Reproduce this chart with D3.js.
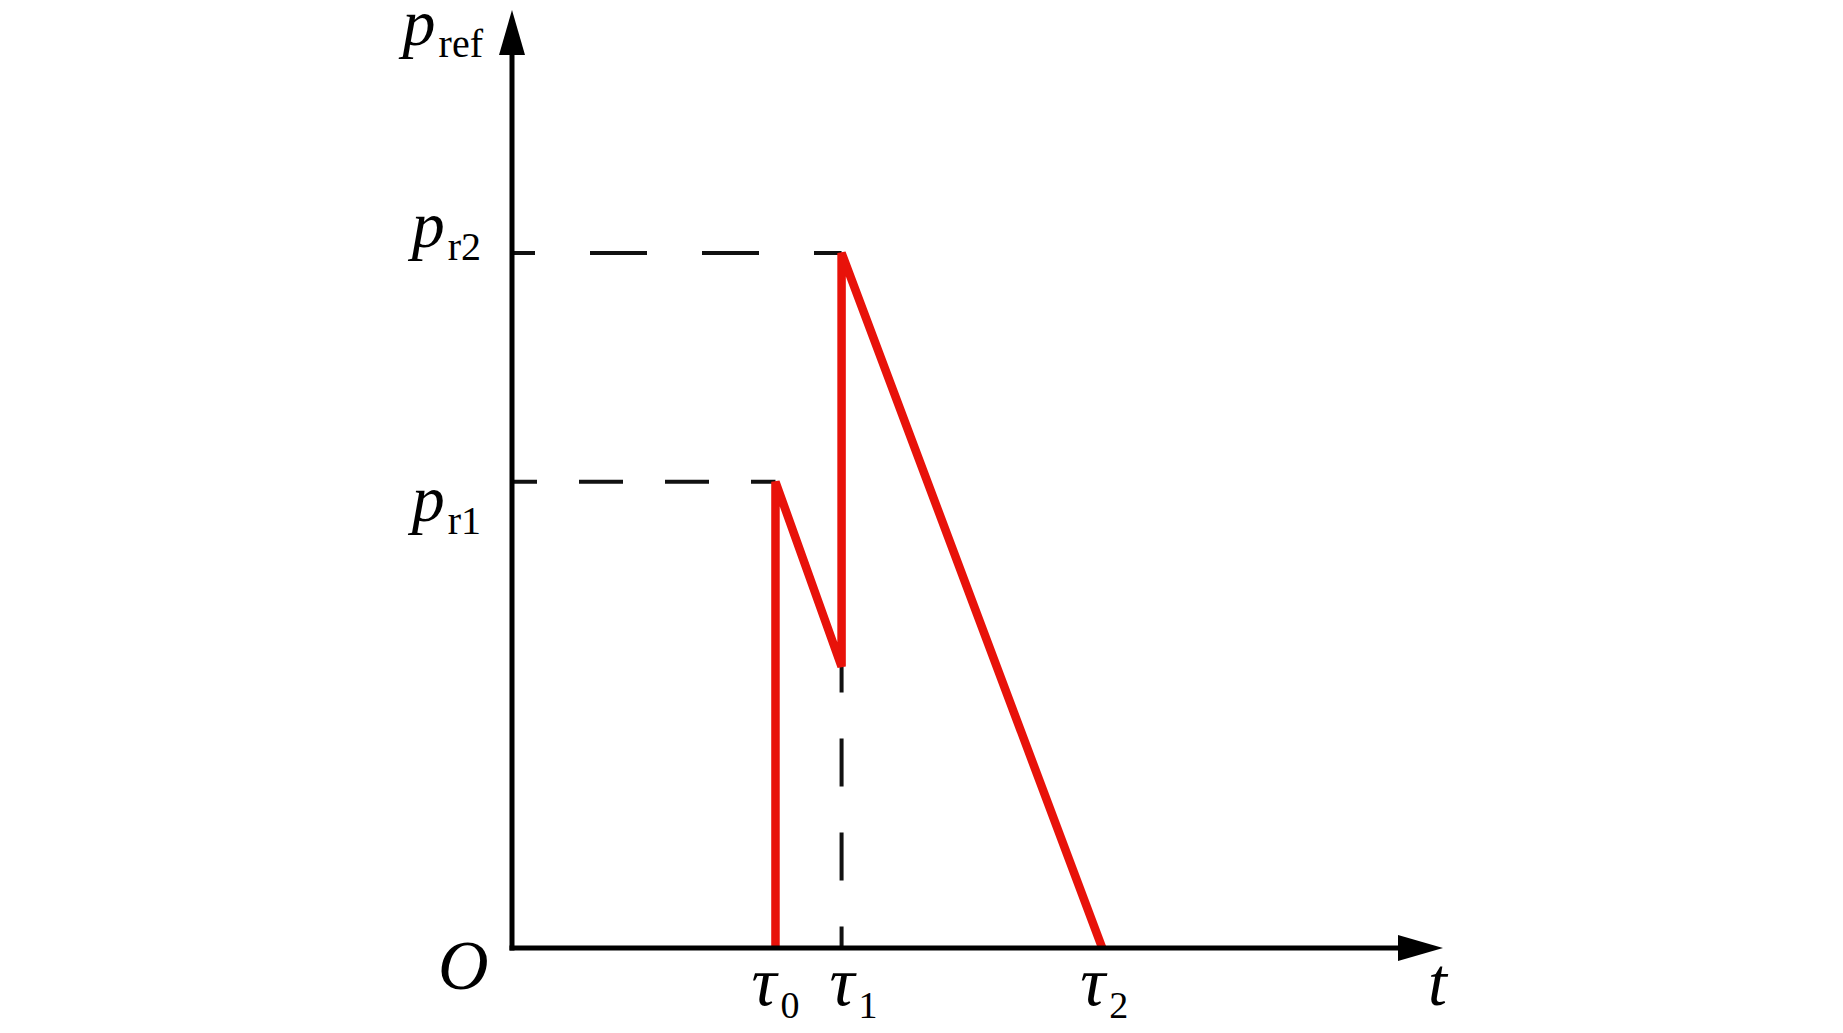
<!DOCTYPE html>
<html>
<head>
<meta charset="utf-8">
<script src="https://cdn.jsdelivr.net/npm/d3@7"></script>
<style>
  html, body { margin: 0; padding: 0; background: #fff; }
  svg { display: block; }
  text { font-family: "Liberation Serif", "Times New Roman", serif; fill: #000; }
</style>
</head>
<body>
<script>
// ---- data (normalised time / pressure units) ----
const xTickSymbols = ["τ", "τ", "τ"];
const xTickSubs    = ["0", "1", "2"];
const xTickValues  = [0.283, 0.354, 0.634];   // τ0, τ1, τ2

const yLevelSubs   = ["r1", "r2"];
const yLevelValues = [0.497, 0.741];           // p_r1, p_r2

const dipValue     = 0.300;                    // p at τ1 before the jump

// reference pressure curve: (t, p)
const curveT = [0.283, 0.283, 0.354, 0.354, 0.634];
const curveP = [0.000, 0.497, 0.300, 0.741, 0.000];

const axisNameX = "t";
const axisNameY = "p";
const axisNameYSub = "ref";
const originLabel = "O";

// ---- drawing ----
const W = 1843, H = 1033;
const svg = d3.select("body").append("svg").attr("width", W).attr("height", H);

const x = d3.scaleLinear().domain([0, 1]).range([512, 1443]);
const y = d3.scaleLinear().domain([0, 1]).range([948, 10]);

const red = "#e8120a";

// dashed guide lines
const guide = svg.append("g").attr("stroke", "#111").attr("stroke-width", 4).attr("fill", "none");
const peakT = [xTickValues[0], xTickValues[1]];
const hDash = [{arr: "44,42", off: 19}, {arr: "57,55", off: 34}];
yLevelValues.forEach((v, i) => {
  guide.append("line")
    .attr("x1", x(0)).attr("x2", x(peakT[i]))
    .attr("y1", y(v)).attr("y2", y(v))
    .attr("stroke-dasharray", hDash[i].arr)
    .attr("stroke-dashoffset", hDash[i].off);
});
guide.append("line")
  .attr("x1", x(xTickValues[1])).attr("x2", x(xTickValues[1]))
  .attr("y1", y(dipValue)).attr("y2", y(0))
  .attr("stroke-dasharray", "48,46")
  .attr("stroke-dashoffset", 22);

// red curve
const pts = curveT.map((t, i) => [t, curveP[i]]);
svg.append("path")
  .attr("d", d3.line().x(d => x(d[0])).y(d => y(d[1]))(pts))
  .attr("fill", "none")
  .attr("stroke", red)
  .attr("stroke-width", 8.5)
  .attr("stroke-linejoin", "miter")
  .attr("stroke-miterlimit", 2);

// axes with arrowheads
const ax = svg.append("g");
const arrowLen = 45, arrowHalf = 13;
ax.append("line")
  .attr("x1", x(0) - 2.5).attr("x2", x(1) - arrowLen + 2)
  .attr("y1", y(0)).attr("y2", y(0))
  .attr("stroke", "#000").attr("stroke-width", 5);
ax.append("line")
  .attr("x1", x(0)).attr("x2", x(0))
  .attr("y1", y(0) + 2.5).attr("y2", y(1) + arrowLen - 2)
  .attr("stroke", "#000").attr("stroke-width", 5);
ax.append("path")
  .attr("d", `M${x(1)},${y(0)} L${x(1) - arrowLen},${y(0) - arrowHalf} L${x(1) - arrowLen},${y(0) + arrowHalf} Z`)
  .attr("fill", "#000");
ax.append("path")
  .attr("d", `M${x(0)},${y(1)} L${x(0) - arrowHalf},${y(1) + arrowLen} L${x(0) + arrowHalf},${y(1) + arrowLen} Z`)
  .attr("fill", "#000");

// y-axis name p_ref
const yName = svg.append("text").attr("x", 483).attr("y", 45).attr("text-anchor", "end");
yName.append("tspan").attr("font-style", "italic").attr("font-size", 66).text(axisNameY);
yName.append("tspan").attr("font-size", 40).attr("dy", 12).attr("dx", 3).text(axisNameYSub);

// y level labels
const yLabelBase = [521, 247];
yLevelValues.forEach((v, i) => {
  const tx = svg.append("text").attr("x", 481).attr("y", yLabelBase[i]).attr("text-anchor", "end");
  tx.append("tspan").attr("font-style", "italic").attr("font-size", 66).text("p");
  tx.append("tspan").attr("font-size", 40).attr("dy", 13).attr("dx", 3).text(yLevelSubs[i]);
});

// origin
svg.append("text").attr("x", 438).attr("y", 989)
  .attr("font-style", "italic").attr("font-size", 70).text(originLabel);

// x tick labels τ0 τ1 τ2
const tickNudge = [0, 12, 2];
xTickValues.forEach((v, i) => {
  const tx = svg.append("text").attr("x", x(v) + tickNudge[i]).attr("y", 1005).attr("text-anchor", "middle");
  tx.append("tspan").attr("font-style", "italic").attr("font-size", 70).text(xTickSymbols[i]);
  tx.append("tspan").attr("font-size", 38).attr("dy", 13).attr("dx", 4).text(xTickSubs[i]);
});

// x-axis name
svg.append("text").attr("x", 1428).attr("y", 1005)
  .attr("font-style", "italic").attr("font-size", 68).text(axisNameX);
</script>
</body>
</html>
